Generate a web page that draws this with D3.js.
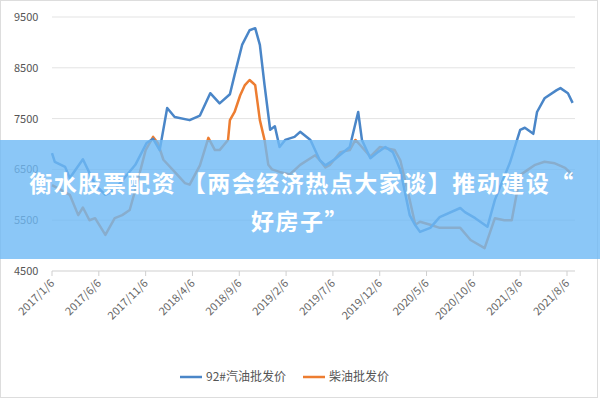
<!DOCTYPE html><html><head><meta charset="utf-8">
<script src="https://cdn.jsdelivr.net/npm/d3@7"></script>
<style>body{margin:0;background:#fff}</style></head><body><svg id="c" width="600" height="400"></svg>
<script>
const tickLabels=["2017/1/6","2017/6/6","2017/11/6","2018/4/6","2018/9/6","2019/2/6","2019/7/6","2019/12/6","2020/5/6","2020/10/6","2021/3/6","2021/8/6"];
const yTicks=[4500,5500,6500,7500,8500,9500];
const gasMonths=[0,0.3,1.4,1.9,3.3,4.6,5.7,6.7,8.9,10.1,10.8,11.5,12.3,13.1,14.7,15.8,16.9,17.9,19.0,19.5,20.3,21.1,21.7,22.2,22.7,23.3,23.8,24.3,24.9,25.9,26.5,27.6,28.6,29.2,30.2,31.8,32.7,33.1,34.0,34.8,35.6,36.4,37.2,38.2,38.8,39.3,40.4,41.4,43.6,44.1,45.2,46.5,47.3,48.9,50.0,50.5,51.4,51.8,52.6,53.9,54.3,55.1,55.6];
const gasValues=[6820,6650,6550,6330,6700,6200,6000,6100,6590,7020,7100,6880,7710,7530,7470,7560,8000,7800,7980,8360,8950,9240,9280,8950,8160,7280,7350,6940,7080,7140,7240,7080,6680,6580,6700,6940,7630,7080,6720,6840,6940,6840,6490,5600,5400,5270,5350,5560,5740,5660,5540,5370,5900,6630,7280,7320,7200,7630,7900,8060,8100,8000,7810];
const dieselMonths=[0,0.9,1.9,2.8,3.3,4.0,4.6,5.7,6.7,7.5,8.3,8.9,10.0,10.8,11.3,11.9,13.1,14.2,14.7,15.8,16.7,17.4,17.9,18.8,19.0,19.5,20.1,20.6,21.1,21.7,22.2,22.7,23.1,23.5,24.3,25.4,26.5,28.1,28.6,29.2,29.7,30.8,31.8,32.4,32.9,34.0,35.0,36.6,37.2,38.2,38.8,39.3,40.4,41.4,43.6,44.7,46.2,47.3,48.3,49.1,50.0,50.8,51.6,52.6,53.7,54.8,55.6];
const dieselValues=[6190,6100,6000,5600,5750,5500,5540,5210,5540,5600,5700,6100,6880,7140,7020,6690,6450,6230,6200,6580,7120,6880,6880,7080,7470,7630,7960,8160,8260,8160,7470,7080,6590,6500,6450,6400,6590,6780,6680,6540,6590,6840,6880,7080,6980,6750,6940,6880,6680,5900,5410,5470,5410,5350,5350,5110,4950,5540,5500,5500,6390,6490,6590,6650,6620,6530,6390];
const svg=d3.select("#c");
svg.append("rect").attr("x",0.5).attr("y",0.5).attr("width",597).attr("height",397).attr("fill","#fff").attr("stroke","#ddd");
const x=d3.scaleLinear().domain([0,55]).range([52,567]);
const y=d3.scaleLinear().domain([4500,9500]).range([271,17]);
const f="'Noto Sans CJK SC','Noto Sans',sans-serif";
yTicks.forEach(t=>{
 svg.append("line").attr("x1",52).attr("x2",575).attr("y1",y(t)).attr("y2",y(t)).attr("stroke",t===4500?"#cfcfcf":"#e3e3e3");
 svg.append("text").attr("x",14).attr("y",y(t)+4).text(t).attr("font-size",11).attr("fill","#555").attr("font-family",f);
});
tickLabels.forEach((l,i)=>{
 const xx=x(i*5);
 svg.append("line").attr("x1",xx).attr("x2",xx).attr("y1",271).attr("y2",276).attr("stroke","#cfcfcf");
 svg.append("text").attr("transform",`translate(${xx+3},284) rotate(-45)`).attr("text-anchor","end").attr("font-size",11).attr("fill","#666").attr("font-family",f).text(l);
});
const line=d3.line().x(d=>x(d[0])).y(d=>y(d[1]));
svg.append("path").datum(dieselMonths.map((m,i)=>[m,dieselValues[i]])).attr("d",line).attr("fill","none").attr("stroke","#ed7d31").attr("stroke-width",2.5).attr("stroke-linejoin","round");
svg.append("path").datum(gasMonths.map((m,i)=>[m,gasValues[i]])).attr("d",line).attr("fill","none").attr("stroke","#4a86c8").attr("stroke-width",2.5).attr("stroke-linejoin","round");
const lg=[["92#汽油批发价","#4a86c8",180],["柴油批发价","#ed7d31",303]];
lg.forEach(([t,c,lx])=>{
 svg.append("line").attr("x1",lx).attr("x2",lx+22).attr("y1",377).attr("y2",377).attr("stroke",c).attr("stroke-width",2.5);
 svg.append("text").attr("x",lx+26).attr("y",381).attr("font-size",12).attr("fill","#555").attr("font-family",f).text(t);
});
svg.append("rect").attr("x",0).attr("y",140).attr("width",600).attr("height",119).attr("fill","rgba(110,185,245,0.8)");
svg.append("text").attr("x",302).attr("y",192).attr("text-anchor","middle").attr("font-size",23).attr("letter-spacing",1.5).attr("font-weight","bold").attr("fill","#fff").attr("font-family",f).text("衡水股票配资 【两会经济热点大家谈】推动建设“");
svg.append("text").attr("x",300).attr("y",230).attr("text-anchor","middle").attr("font-size",23).attr("letter-spacing",1.5).attr("font-weight","bold").attr("fill","#fff").attr("font-family",f).text("好房子”");
</script></body></html>
